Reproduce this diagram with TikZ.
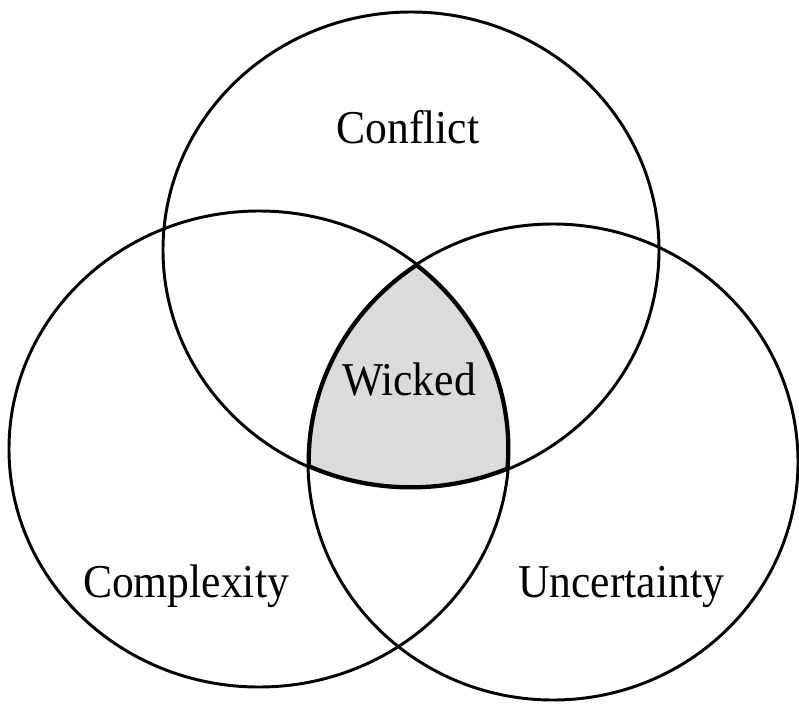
\documentclass[tikz,border=0pt]{standalone}
\usepackage{fontspec}
\setmainfont{Liberation Serif}
\definecolor{wickedgray}{gray}{0.86}

\tikzset{
    setline/.style={line width=2.1pt},
    setlabel/.style={anchor=base,inner sep=0pt,yscale=1.08,font=\fontsize{31}{37}\selectfont}
}

\begin{document}
\begin{tikzpicture}[x=0.025cm,y=-0.025cm]
    \useasboundingbox (0,0) rectangle (799,703);

    % Overlap of all three sets
    \begin{scope}
        \clip (411,250) ellipse [x radius=248, y radius=238];
        \clip (259,449) ellipse [x radius=250, y radius=238];
        \clip (553,462) ellipse [x radius=245, y radius=238];
        \fill[wickedgray] (0,0) rectangle (799,703);
        \draw[line width=4pt] (411,250) ellipse [x radius=248, y radius=238];
        \draw[line width=4pt] (259,449) ellipse [x radius=250, y radius=238];
        \draw[line width=4pt] (553,462) ellipse [x radius=245, y radius=238];
    \end{scope}

    % The three sets
    \draw[setline] (411,250) ellipse [x radius=248, y radius=238];
    \draw[setline] (259,449) ellipse [x radius=250, y radius=238];
    \draw[setline] (553,462) ellipse [x radius=245, y radius=238];

    % Labels
    \node[setlabel] (conflict) at (408,143) {Conflict};
    \node[setlabel] (wicked) at (409,395) {Wicked};
    \node[setlabel] (complexity) at (186,597) {Complexity};
    \node[setlabel] (uncertainty) at (621,597) {Uncertainty};
\end{tikzpicture}
\end{document}
